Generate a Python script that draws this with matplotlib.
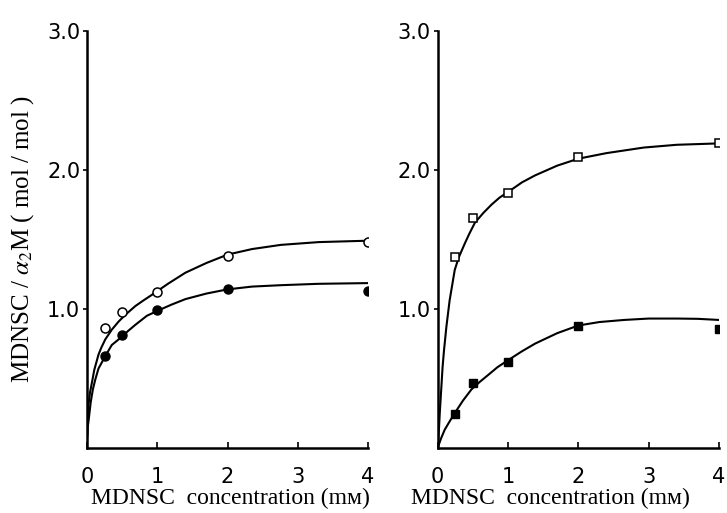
import matplotlib
matplotlib.use('Agg')
import matplotlib.pyplot as plt

# measured points
conc = [0.25, 0.5, 1, 2, 4]
open_circle = [0.86, 0.98, 1.12, 1.38, 1.48]
filled_circle = [0.66, 0.81, 0.99, 1.14, 1.13]
open_square = [1.37, 1.65, 1.83, 2.09, 2.19]
filled_square = [0.245, 0.47, 0.62, 0.88, 0.855]

# fitted curves
fit_oc_x = [0, 0.005, 0.02, 0.04, 0.067, 0.1, 0.16, 0.2, 0.257, 0.35, 0.45, 0.55,
            0.686, 0.8, 0.92, 1.15, 1.4, 1.7, 2.0, 2.35, 2.76, 3.3, 4.0]
fit_oc_y = [0.1, 0.2, 0.32, 0.4, 0.47, 0.56, 0.67, 0.72, 0.78, 0.85, 0.91, 0.96,
            1.02, 1.06, 1.10, 1.18, 1.26, 1.33, 1.39, 1.43, 1.46, 1.48, 1.49]
fit_fc_x = [0, 0.005, 0.02, 0.05, 0.08, 0.114, 0.16, 0.257, 0.35, 0.496, 0.58,
            0.686, 0.85, 1.02, 1.2, 1.4, 1.7, 2.0, 2.35, 2.76, 3.3, 4.0]
fit_fc_y = [0.08, 0.14, 0.2, 0.33, 0.42, 0.49, 0.57, 0.66, 0.74, 0.80, 0.84,
            0.885, 0.95, 0.99, 1.03, 1.07, 1.11, 1.14, 1.16, 1.17, 1.18, 1.185]
fit_os_x = [0, 0.02, 0.03, 0.053, 0.07, 0.09, 0.124, 0.17, 0.243, 0.3, 0.386,
            0.45, 0.53, 0.65, 0.767, 0.88, 1.0, 1.2, 1.386, 1.7, 2.0, 2.4, 2.93, 3.4, 4.0]
fit_os_y = [0, 0.15, 0.25, 0.44, 0.58, 0.7, 0.87, 1.06, 1.28, 1.37, 1.47,
            1.54, 1.62, 1.69, 1.75, 1.80, 1.84, 1.91, 1.96, 2.03, 2.08, 2.12, 2.16, 2.18, 2.19]
fit_fs_x = [0, 0.05, 0.1, 0.17, 0.243, 0.36, 0.48, 0.6, 0.72, 0.85, 1.0, 1.2,
            1.386, 1.7, 2.0, 2.3, 2.65, 3.0, 3.41, 3.7, 4.0]
fit_fs_y = [0, 0.07, 0.13, 0.19, 0.25, 0.34, 0.42, 0.475, 0.525, 0.58, 0.63, 0.695,
            0.75, 0.825, 0.88, 0.905, 0.92, 0.93, 0.93, 0.928, 0.92]

xticks = [0, 1, 2, 3, 4]
yticks = [1.0, 2.0, 3.0]
ytick_labels = ['1.0', '2.0', '3.0']

plt.rcParams['mathtext.fontset'] = 'stix'
serif = ['Liberation Serif', 'DejaVu Serif']
xlabel = 'MDNSC  concentration (m\u1d0d)'

fig = plt.figure(figsize=(7.27, 5.13), dpi=100)
ax1 = fig.add_axes([0.120, 0.127, 0.386, 0.813])
ax2 = fig.add_axes([0.602, 0.127, 0.387, 0.813])

ax1.plot(fit_oc_x, fit_oc_y, color='black', lw=1.5)
ax1.plot(fit_fc_x, fit_fc_y, color='black', lw=1.5)
ax1.plot(conc, open_circle, 'o', ms=6.5, mfc='white', mec='black', mew=1.1, ls='none')
ax1.plot(conc, filled_circle, 'o', ms=6.5, color='black', ls='none')

ax2.plot(fit_os_x, fit_os_y, color='black', lw=1.5)
ax2.plot(fit_fs_x, fit_fs_y, color='black', lw=1.5)
ax2.plot(conc, open_square, 's', ms=6, mfc='white', mec='black', mew=1.1, ls='none')
ax2.plot(conc, filled_square, 's', ms=6, color='black', ls='none')

for ax in (ax1, ax2):
    ax.set_xlim(0, 4)
    ax.set_ylim(0, 3.0)
    ax.spines['top'].set_visible(False)
    ax.spines['right'].set_visible(False)
    ax.spines['left'].set_linewidth(1.8)
    ax.spines['bottom'].set_linewidth(1.8)
    ax.set_xticks(xticks)
    ax.set_yticks(yticks)
    ax.set_yticklabels(ytick_labels)
    ax.tick_params(axis='x', direction='in', length=4, width=1.2, labelsize=15, pad=14)
    ax.tick_params(axis='y', direction='out', length=3, width=1.2, labelsize=15, pad=2)
    ax.set_xlabel(xlabel, family=serif, fontsize=17)

ax1.xaxis.set_label_coords(0.51, -0.095)
ax2.xaxis.set_label_coords(0.40, -0.095)
ax1.set_ylabel(r'MDNSC / $\alpha_2$M ( mol / mol )', family=serif, fontsize=18, labelpad=8)

fig.savefig('out.png', dpi=100)
